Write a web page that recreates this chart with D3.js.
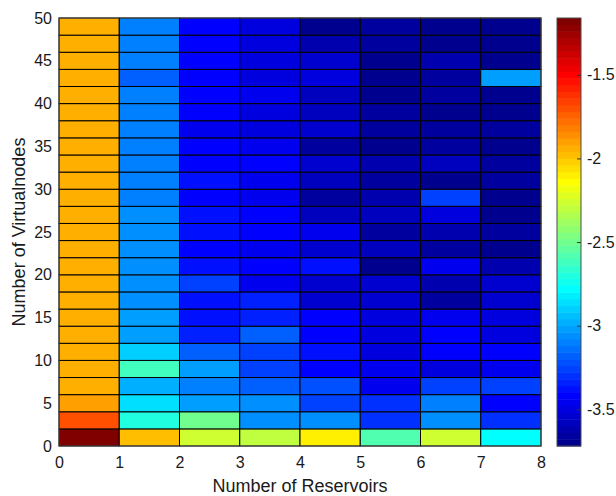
<!DOCTYPE html>
<html><head><meta charset="utf-8">
<script src="https://cdnjs.cloudflare.com/ajax/libs/d3/7.8.5/d3.min.js"></script>
<style>
body{margin:0;background:#fff}
svg{display:block}
text{font-family:"Liberation Sans",Arial,Helvetica,sans-serif;fill:#1a1a1a}
</style>
</head><body>
<svg id="chart" width="616" height="496"></svg>
<script>
// Number of reservoirs (cell left edges) and number of virtual nodes (cell bottom edges)
const reservoirs = [0, 1, 2, 3, 4, 5, 6, 7];
const virtualNodes = [0,2,4,6,8,10,12,14,16,18,20,22,24,26,28,30,32,34,36,38,40,42,44,46,48];
// values per reservoir column, bottom (0 virtual nodes) to top (48)
const res0 = [-1.16,-1.70,-1.90,-1.94,-1.94,-1.94,-1.94,-1.94,-1.94,-1.94,-1.94,-1.94,-1.94,-1.94,-1.94,-1.94,-1.94,-1.94,-1.94,-1.94,-1.94,-1.94,-1.94,-1.94,-1.94];
const res1 = [-1.98,-2.70,-2.86,-2.98,-2.62,-2.90,-3.02,-3.02,-3.06,-3.06,-3.06,-3.06,-3.06,-3.06,-3.10,-3.10,-3.10,-3.10,-3.10,-3.10,-3.10,-3.18,-3.10,-3.10,-3.10];
const res2 = [-2.26,-2.50,-3.02,-3.10,-3.02,-3.18,-3.34,-3.38,-3.38,-3.26,-3.38,-3.42,-3.38,-3.38,-3.42,-3.38,-3.42,-3.42,-3.46,-3.42,-3.42,-3.42,-3.42,-3.42,-3.42];
const res3 = [-2.30,-3.06,-3.06,-3.18,-3.26,-3.26,-3.18,-3.34,-3.34,-3.46,-3.42,-3.46,-3.42,-3.42,-3.46,-3.46,-3.42,-3.46,-3.50,-3.50,-3.46,-3.50,-3.50,-3.50,-3.50];
const res4 = [-2.10,-3.06,-3.26,-3.22,-3.42,-3.38,-3.42,-3.42,-3.54,-3.54,-3.38,-3.54,-3.46,-3.58,-3.66,-3.58,-3.54,-3.66,-3.54,-3.58,-3.58,-3.50,-3.54,-3.62,-3.70];
const res5 = [-2.58,-3.30,-3.30,-3.46,-3.46,-3.50,-3.50,-3.50,-3.54,-3.54,-3.70,-3.58,-3.66,-3.58,-3.62,-3.66,-3.62,-3.70,-3.66,-3.66,-3.70,-3.70,-3.70,-3.66,-3.66];
const res6 = [-2.26,-3.06,-3.10,-3.26,-3.50,-3.42,-3.42,-3.46,-3.66,-3.62,-3.46,-3.66,-3.62,-3.50,-3.26,-3.70,-3.58,-3.66,-3.66,-3.70,-3.66,-3.66,-3.62,-3.70,-3.70];
const res7 = [-2.78,-3.30,-3.42,-3.26,-3.46,-3.42,-3.50,-3.50,-3.54,-3.54,-3.62,-3.70,-3.66,-3.70,-3.70,-3.66,-3.66,-3.70,-3.66,-3.70,-3.70,-3.02,-3.70,-3.70,-3.72];
const xTicks = [0,1,2,3,4,5,6,7,8];
const yTicks = [0,5,10,15,20,25,30,35,40,45,50];
const cTicks = [-3.5,-3,-2.5,-2,-1.5];
const xTitle = "Number of Reservoirs";
const yTitle = "Number of Virtualnodes";

const columns = [res0,res1,res2,res3,res4,res5,res6,res7];
const cells = [];
columns.forEach((col, ci) => col.forEach((v, ri) => cells.push({x: reservoirs[ci], y: virtualNodes[ri], v})));

// MATLAB jet(64)
const N = 64;
function jet(i){ // 1..64
  const r = i < 25 ? 0 : i <= 40 ? (i-24)/16 : i <= 55 ? 1 : (72-i)/16;
  const g = i < 9 ? 0 : i <= 24 ? (i-8)/16 : i <= 39 ? 1 : i <= 55 ? (56-i)/16 : 0;
  const b = i <= 8 ? (i+8)/16 : i <= 24 ? 1 : i <= 39 ? (40-i)/16 : 0;
  return d3.rgb(Math.round(r*255), Math.round(g*255), Math.round(b*255)).formatHex();
}
const [cmin, cmax] = d3.extent(cells, d => d.v);
const cNorm = d3.scaleLinear().domain([cmin, cmax]).range([0, N]);
const color = v => jet(Math.max(1, Math.min(N, Math.floor(cNorm(v) + 1e-9) + 1)));

const svg = d3.select("#chart");
const L = 59, R = 541, T = 18, B = 446;
const x = d3.scaleLinear().domain([0, 8]).range([L, R]);
const y = d3.scaleLinear().domain([0, 50]).range([B, T]);

svg.append("g").selectAll("rect").data(cells).join("rect")
  .attr("x", d => x(d.x)).attr("y", d => y(d.y + 2))
  .attr("width", d => x(d.x + 1) - x(d.x)).attr("height", d => y(d.y) - y(d.y + 2))
  .attr("fill", d => color(d.v))
  .attr("stroke", "#000").attr("stroke-width", 1);

svg.append("rect").attr("x", L).attr("y", T).attr("width", R - L).attr("height", B - T)
  .attr("fill", "none").attr("stroke", "#4d4d4d").attr("stroke-width", 1);

const fs = 16;
const xAxis = svg.append("g").attr("transform", `translate(0,${B})`)
  .call(d3.axisBottom(x).tickValues(xTicks).tickSize(0).tickPadding(11).tickFormat(d => String(d)));
xAxis.select(".domain").remove();
xAxis.selectAll("text").attr("font-size", fs).style("font-family", '"Liberation Sans",Arial,sans-serif');

const yAxis = svg.append("g").attr("transform", `translate(${L},0)`)
  .call(d3.axisLeft(y).tickValues(yTicks).tickSize(0).tickPadding(7).tickFormat(d => String(d)));
yAxis.select(".domain").remove();
yAxis.selectAll("text").attr("font-size", fs).style("font-family", '"Liberation Sans",Arial,sans-serif');

svg.append("text").attr("x", (L + R) / 2).attr("y", 492).attr("text-anchor", "middle")
  .attr("font-size", 18).text(xTitle);
svg.append("text").attr("transform", `translate(25,${(T + B) / 2}) rotate(-90)`)
  .attr("text-anchor", "middle").attr("font-size", 18).text(yTitle);

// colorbar
const CL = 557, CR = 581;
const cy = d3.scaleLinear().domain([cmin, cmax]).range([B, T]);
const bands = d3.range(1, N + 1);
svg.append("g").selectAll("rect").data(bands).join("rect")
  .attr("x", CL).attr("width", CR - CL)
  .attr("y", i => cy(cNorm.invert(i)))
  .attr("height", i => cy(cNorm.invert(i - 1)) - cy(cNorm.invert(i)) + 0.5)
  .attr("fill", i => jet(i));
svg.append("rect").attr("x", CL).attr("y", T).attr("width", CR - CL).attr("height", B - T)
  .attr("fill", "none").attr("stroke", "#4d4d4d").attr("stroke-width", 1);
const cAxis = svg.append("g").attr("transform", `translate(${CR},0)`)
  .call(d3.axisRight(cy).tickValues(cTicks).tickSize(-4).tickPadding(6).tickFormat(d => String(d)));
cAxis.select(".domain").remove();
cAxis.selectAll("line").attr("stroke", "#333");
cAxis.selectAll("text").attr("font-size", fs).style("font-family", '"Liberation Sans",Arial,sans-serif');
</script>
</body></html>
